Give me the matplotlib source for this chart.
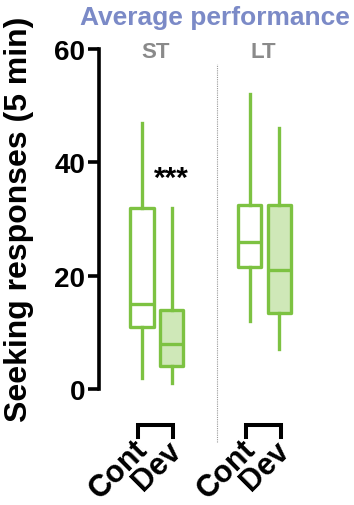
import matplotlib
matplotlib.use("Agg")
import matplotlib.pyplot as plt

plt.rcParams['font.family'] = ['Liberation Sans', 'DejaVu Sans']

# Data
groups = ["ST", "LT"]
conditions = ["Cont", "Dev"]
whisker_low = [2, 1, 12, 7]
q1 = [11, 4, 21.5, 13.5]
median = [15, 8, 26, 21]
q3 = [32, 14, 32.5, 32.5]
whisker_high = [47, 32, 52, 46]
filled = [False, True, False, True]
positions = [1, 2, 4.66, 5.66]
yticks = [0, 20, 40, 60]

GREEN = "#7dc242"
LIGHT = "#cfe8b8"

fig = plt.figure(figsize=(3.54, 5.06), dpi=100)
ax = fig.add_axes([99/354, 116/506, 255/354, 340/506])

stats = []
for i in range(4):
    stats.append(dict(whislo=whisker_low[i], q1=q1[i], med=median[i],
                      q3=q3[i], whishi=whisker_high[i], fliers=[]))

bp = ax.bxp(stats, positions=positions, widths=0.78, patch_artist=True,
            showcaps=False, showfliers=False,
            boxprops=dict(linewidth=2.4, edgecolor=GREEN),
            whiskerprops=dict(linewidth=2.4, color=GREEN),
            medianprops=dict(linewidth=2.4, color=GREEN))
for box, f in zip(bp['boxes'], filled):
    box.set_facecolor(LIGHT if f else "white")
    box.set_joinstyle('round')

ax.set_xlim(-0.4576, 8.186)
ax.set_ylim(0, 60)
ax.set_yticks(yticks)
ax.set_yticklabels([str(t) for t in yticks], fontsize=20, fontweight='bold')
ax.set_xticks([])
for s in ['top', 'right', 'bottom']:
    ax.spines[s].set_visible(False)
ax.spines['left'].set_linewidth(2.6)
ax.tick_params(axis='y', length=8, width=2.6, pad=2)

fig.text(19/354, 1 - 219/506, "Seeking responses (5 min)", rotation=90,
         ha='center', va='center', fontsize=23, fontweight='bold')

# separator
ax.plot([3.53, 3.53], [-9.4, 57.4], linestyle=(0, (1, 1)), color='#999999',
        linewidth=0.8, clip_on=False)

# group labels
for g, (a, b) in zip(groups, [(positions[0], positions[1]), (positions[2], positions[3])]):
    ax.text((a + b) / 2 - 0.05, 59.5, g, ha='center', va='center', fontsize=16,
            fontweight='bold', color='#8a8a8a', clip_on=False)
    # bracket
    ax.plot([a - 0.15, a - 0.15, b + 0.05, b + 0.05], [-8.5, -6.4, -6.4, -8.5],
            color='black', linewidth=2.9, clip_on=False, solid_joinstyle='miter')
    ax.text(a - 0.33, -7.9, conditions[0], rotation=45, rotation_mode='anchor',
            ha='right', va='top', fontsize=22, fontweight='bold', clip_on=False)
    ax.text(b - 0.18, -8.1, conditions[1], rotation=45, rotation_mode='anchor',
            ha='right', va='top', fontsize=22, fontweight='bold', clip_on=False)

ax.text(positions[1], 37.2, "***", ha='center', va='center', fontsize=21.5,
        fontweight='bold')

fig.text(350/354, 1 - 18/506, "Average performance", ha='right', va='center',
         fontsize=19, fontweight='bold', color='#7b8ac7')

fig.savefig("out.png", dpi=100)
